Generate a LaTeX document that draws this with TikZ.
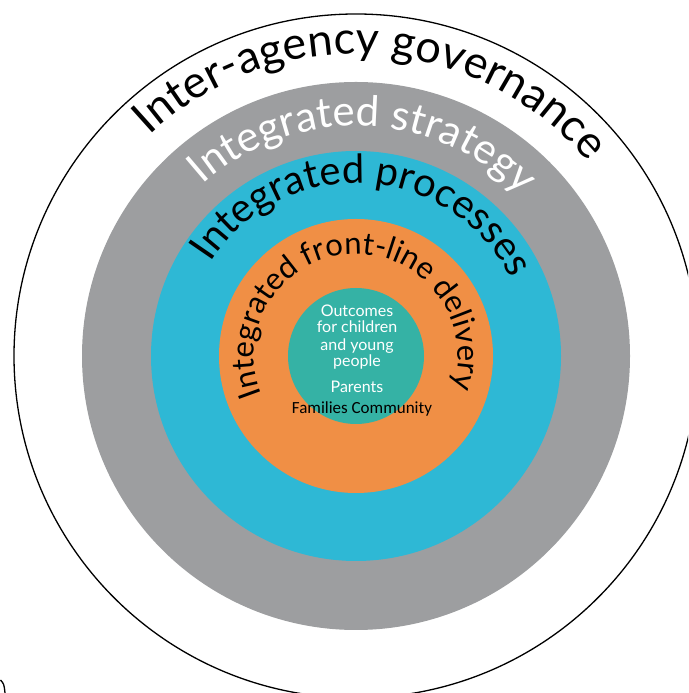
\documentclass[tikz,border=0pt]{standalone}
\usepackage{fontspec}
\setmainfont{Lato}
\newfontfamily\famfont{Carlito}
\usetikzlibrary{decorations.text}

\definecolor{ringgray}{RGB}{157,158,160}
\definecolor{ringblue}{RGB}{46,184,213}
\definecolor{ringorange}{RGB}{240,143,69}
\definecolor{coreteal}{RGB}{53,178,165}

\tikzset{
  ring line/.style={line width=1.3pt},
  ring label/.style={decorate, decoration={text along path, text align=center, text={#1}}},
  core text/.style={white, font=\fontsize{16}{16}\selectfont, anchor=base, inner sep=0.75pt},
}

\begin{document}
\begin{tikzpicture}[x=1pt,y=1pt]
\useasboundingbox (0,0) rectangle (688,693);
\clip (0,0) rectangle (688,693);

\coordinate (c) at (356,337);

%Shape: Circle
\draw[ring line] (c) circle[radius=342];
%Shape: Circle
\fill[ringgray] (c) circle[radius=274];
%Shape: Circle
\fill[ringblue] (c) circle[radius=205];
%Shape: Circle
\fill[ringorange] (c) circle[radius=137];
%Shape: Circle
\fill[coreteal] (c) circle[radius=68];

%Curve Lines
\draw[ring line] (0.5,13) .. controls (4,9) .. (5,0);

% Curved Text
\path[ring label={|\fontsize{45}{45}\selectfont|Inter-agency governance}]
  ([shift={(176.5:302)}]c) arc[start angle=176.5, end angle=-3.5, radius=302];
% Curved Text
\path[ring label={|\fontsize{42}{42}\selectfont\color{white}|Integrated strategy}]
  ([shift={(178:230)}]c) arc[start angle=178, end angle=-2, radius=230];
% Curved Text
\path[ring label={|\fontsize{40}{40}\selectfont|Integrated processes}]
  ([shift={(177:173)}]c) arc[start angle=177, end angle=-3, radius=173];
% Curved Text
\path[ring label={|\fontsize{31}{31}\selectfont|Integrated front-line delivery}]
  ([shift={(222:102)}]c) arc[start angle=222, end angle=-38, radius=102];

% Text Node
\foreach \txt/\y [count=\i] in {Outcomes/317, for children/333, and young/351, people/367, Parents/393}
  \node[core text] (core\i) at (357,693-\y) {\txt};
% Text Node
\node[core text, black, font=\famfont\fontsize{17}{17}\selectfont] (families) at (362,693-414) {Families Community};

\end{tikzpicture}
\end{document}
